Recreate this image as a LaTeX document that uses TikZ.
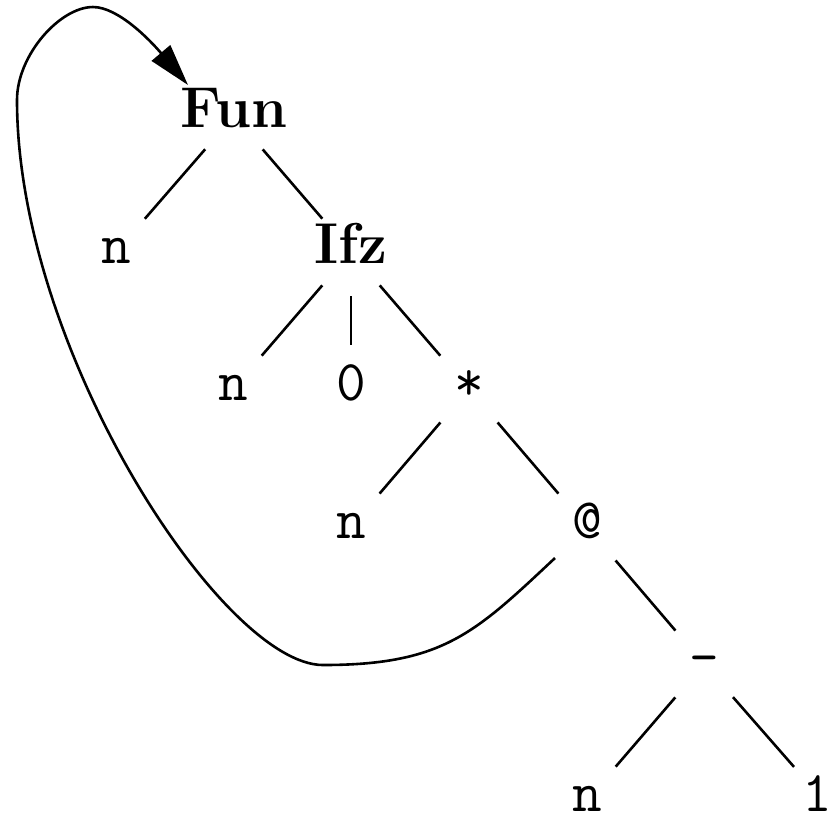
\documentclass[tikz,border=0pt]{standalone}
\usetikzlibrary{arrows.meta,calc}
\newcommand\edgept[1]{([yshift=0.75pt]#1.mid)}
\begin{document}
\begin{tikzpicture}[x=0.25pt,y=-0.25pt,
  lbl/.style={anchor=mid, inner sep=0pt, font=\fontsize{14.4}{17}\selectfont\ttfamily},
  blbl/.style={anchor=mid, inner sep=0pt, font=\fontsize{14.4}{17}\selectfont\bfseries},
  edge/.style={line width=0.65pt, shorten <=11pt, shorten >=11pt},
  back/.style={line width=0.65pt, -{Triangle[length=10.5pt,width=6pt]}}]
\useasboundingbox (0,0) rectangle (827,819);
\node[blbl] (fun) at (234,119) {Fun};
\node[lbl]  (n1)  at (116,255) {n};
\node[blbl] (ifz) at (351,255) {Ifz};
\node[lbl]  (n2)  at (233,392) {n};
\node[lbl]  (zero) at (351,392) {0};
\node[lbl]  (mul) at (469,392) {*};
\node[lbl]  (n3)  at (351,530) {n};
\node[lbl]  (app) at (587,530) {@};
\node[lbl]  (sub) at (704,667) {-};
\node[lbl]  (n4)  at (587,803) {n};
\node[lbl]  (one) at (817,803) {1};
\draw[edge] \edgept{fun} -- \edgept{n1};
\draw[edge] \edgept{fun} -- \edgept{ifz};
\draw[edge] \edgept{ifz} -- \edgept{n2};
\draw[edge] \edgept{ifz} -- \edgept{zero};
\draw[edge] \edgept{ifz} -- \edgept{mul};
\draw[edge] \edgept{mul} -- \edgept{n3};
\draw[edge] \edgept{mul} -- \edgept{app};
\draw[edge] \edgept{app} -- \edgept{sub};
\draw[edge] \edgept{sub} -- \edgept{n4};
\draw[edge] ([yshift=0.75pt]sub.mid) -- ([yshift=0.75pt,xshift=1.5pt]one.mid);
\coordinate (bs) at ($(app.mid)+(-32,28)$);
\coordinate (be) at ($(fun.mid)+(-46,-34)$);
\draw[back] (bs) .. controls (475,633) and (443,665) .. (323,665)
  .. controls (223,665) and (17,350) .. (17,100)
  .. controls (17,55) and (60,7) .. (93,7)
  .. controls (118,7) and (150,40) .. (be);
\end{tikzpicture}
\end{document}
